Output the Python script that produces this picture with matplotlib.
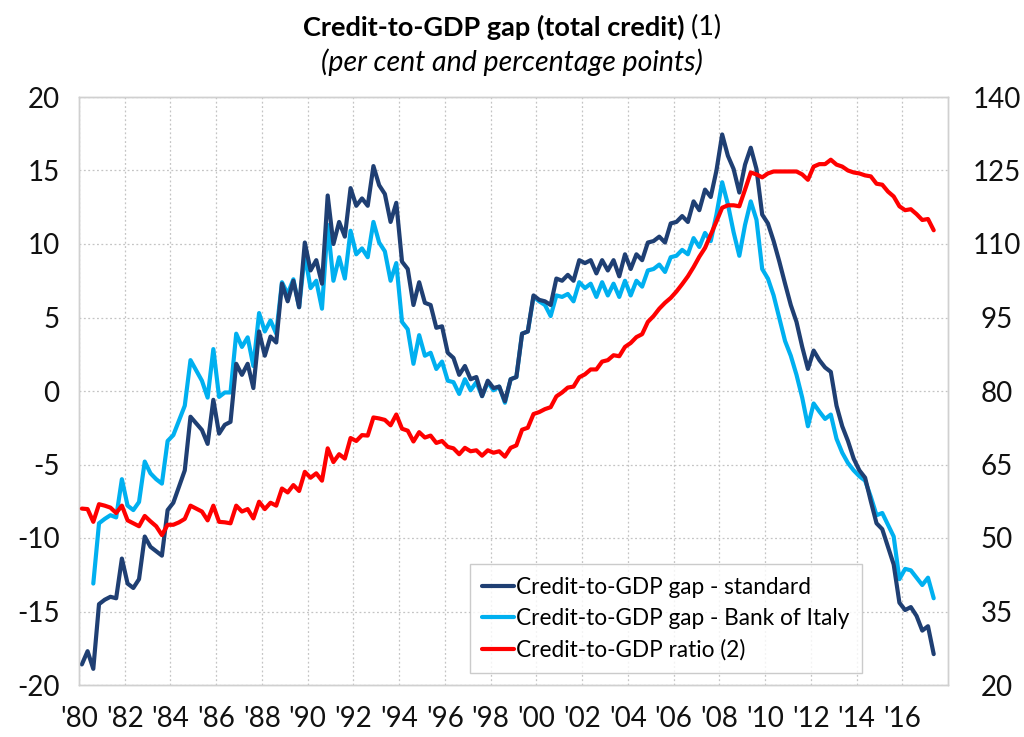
import numpy as np
import matplotlib
matplotlib.use("Agg")
import matplotlib.pyplot as plt

# ---------------- data (quarterly, 1980Q1 - 2017Q2) ----------------
start_year = 1980
gap_standard = [
    -18.6, -17.7, -18.9, -14.5, -14.2, -14.0, -14.1, -11.4, -13.1, -13.4,
    -12.8, -9.9, -10.6, -10.9, -11.2, -8.1, -7.6, -6.5, -5.4, -1.75,
    -2.2, -2.65, -3.6, -0.6, -2.9, -2.3, -2.1, 1.85, 1.1, 1.85,
    0.2, 4.05, 2.4, 3.7, 3.3, 7.3, 6.1, 7.5, 5.7, 10.1,
    8.2, 8.9, 7.3, 13.3, 10.0, 11.5, 10.5, 13.8, 12.6, 13.1,
    12.6, 15.3, 14.0, 13.4, 11.5, 12.8, 8.8, 8.3, 5.85, 7.4,
    6.0, 5.85, 4.3, 4.4, 2.6, 2.25, 1.1, 1.7, 0.8, 0.95,
    -0.35, 0.7, 0.2, 0.3, -0.7, 0.8, 0.95, 3.9, 4.05, 6.5,
    6.2, 6.1, 5.85, 7.65, 7.5, 7.9, 7.5, 8.9, 8.7, 8.9,
    8.0, 8.9, 8.2, 8.9, 7.8, 9.3, 8.3, 9.3, 8.9, 10.1,
    10.2, 10.5, 10.1, 11.4, 11.5, 11.9, 11.5, 12.9, 12.3, 13.7,
    13.2, 15.0, 17.45, 16.0, 15.1, 13.5, 15.4, 16.55, 15.1, 12.0,
    11.4, 10.2, 8.8, 7.3, 5.85, 4.7, 3.0, 1.5, 2.75, 2.1,
    1.6, 1.3, -1.0, -2.4, -3.4, -4.6, -5.4, -5.9, -7.5, -9.0,
    -9.4, -10.6, -11.8, -14.4, -14.9, -14.7, -15.3, -16.3, -16.0, -17.9,
]
gap_bank_italy = [
    np.nan, np.nan, -13.1, -9.0, -8.7, -8.45, -8.6, -6.0, -7.8, -8.1,
    -7.55, -4.8, -5.6, -6.0, -6.3, -3.4, -3.0, -2.0, -1.0, 2.1,
    1.4, 0.7, -0.45, 2.85, -0.4, -0.1, -0.1, 3.9, 3.0, 3.65,
    1.7, 5.3, 4.05, 4.8, 3.9, 7.4, 6.6, 7.6, 5.7, 9.3,
    7.0, 7.5, 5.6, 11.3, 7.5, 9.1, 7.65, 10.9, 9.3, 9.7,
    9.1, 11.5, 10.1, 9.5, 7.5, 8.7, 4.7, 4.2, 1.85, 3.8,
    2.4, 2.6, 1.5, 2.0, 0.7, 0.6, -0.2, 0.8, 0.05, 0.6,
    -0.35, 0.6, 0.05, 0.3, -0.8, 0.8, 0.95, 3.9, 4.05, 6.4,
    6.1, 5.85, 5.1, 6.5, 6.4, 6.6, 6.1, 7.4, 7.0, 7.3,
    6.4, 7.4, 6.5, 7.3, 6.4, 7.5, 6.5, 7.5, 7.1, 8.2,
    8.3, 8.6, 8.1, 9.1, 9.2, 9.6, 9.3, 10.4, 9.8, 10.75,
    10.2, 12.0, 14.2, 12.7, 10.8, 9.2, 11.3, 12.9, 11.65, 8.3,
    7.65, 6.5, 4.95, 3.4, 2.4, 1.1, -0.45, -2.4, -0.85, -1.4,
    -1.9, -1.6, -3.25, -4.2, -4.9, -5.4, -5.8, -6.1, -7.2, -8.45,
    -8.3, -9.1, -9.9, -12.8, -12.1, -12.2, -12.7, -13.2, -12.7, -14.1,
]
credit_ratio = [
    56.0, 55.9, 53.3, 56.9, 56.6, 56.2, 55.1, 56.6, 53.6, 53.0,
    52.4, 54.5, 53.4, 52.4, 50.6, 52.7, 52.7, 53.2, 53.9, 56.6,
    56.0, 55.4, 53.6, 56.6, 53.3, 53.2, 53.0, 56.6, 55.4, 55.9,
    54.0, 57.4, 55.9, 57.2, 56.6, 60.1, 59.3, 60.8, 59.6, 63.5,
    62.3, 63.2, 61.7, 68.3, 65.5, 67.1, 66.2, 70.4, 69.8, 71.0,
    70.9, 74.6, 74.4, 74.1, 73.0, 75.2, 72.3, 71.9, 69.7, 71.6,
    70.5, 70.9, 69.4, 69.8, 68.6, 68.3, 67.1, 68.4, 67.7, 67.9,
    66.8, 67.9, 67.4, 67.7, 66.6, 68.4, 68.9, 72.1, 72.5, 75.3,
    75.7, 76.3, 76.7, 78.9, 79.7, 80.7, 80.9, 82.8, 83.4, 84.4,
    84.4, 86.0, 86.3, 87.3, 87.1, 89.0, 89.8, 91.0, 91.6, 94.1,
    95.3, 96.8, 98.0, 99.0, 100.3, 101.8, 103.4, 105.3, 107.4, 109.2,
    111.9, 114.6, 117.4, 117.9, 117.9, 117.7, 121.1, 124.6, 124.2, 123.6,
    124.4, 124.8, 124.8, 124.8, 124.8, 124.8, 124.2, 123.1, 125.8, 126.3,
    126.3, 127.2, 126.2, 125.8, 125.0, 124.6, 124.4, 124.0, 123.8, 122.3,
    122.1, 120.7, 119.7, 117.7, 116.9, 117.1, 116.1, 114.9, 115.1, 112.8,
]
tick_years = list(range(1980, 2017, 2))
tick_labels = ["'" + str(y)[2:] for y in tick_years]
left_ticks = list(range(-20, 21, 5))
right_ticks = list(range(20, 141, 15))
labels = ["Credit-to-GDP gap - standard",
          "Credit-to-GDP gap - Bank of Italy",
          "Credit-to-GDP ratio (2)"]
colors = ["#1F3F73", "#00B0F0", "#FF0000"]

# quarter mid-points
n = len(gap_standard)
x = start_year + (np.arange(n) + 0.5) / 4.0

FONT = "Lato"
plt.rcParams["font.family"] = [FONT, "DejaVu Sans"]
plt.rcParams["axes.unicode_minus"] = False

fig = plt.figure(figsize=(10.24, 7.37), dpi=100)
ax = fig.add_axes([79 / 1024, 1 - 685 / 737, (948 - 79) / 1024, (685 - 97) / 737])
ax2 = ax.twinx()

lw = 3.0
kw = dict(lw=lw, solid_joinstyle="round", solid_capstyle="round")
l1, = ax.plot(x, gap_standard, color=colors[0], zorder=3, **kw)
l2, = ax.plot(x, gap_bank_italy, color=colors[1], zorder=2, **kw)
l3, = ax2.plot(x, credit_ratio, color=colors[2], zorder=3, **kw)

ax.set_xlim(1980, 2018)
ax.set_ylim(-20, 20)
ax2.set_ylim(20, 140)
ax.set_xticks(tick_years)
ax.set_xticklabels(tick_labels)
ax.set_yticks(left_ticks)
ax2.set_yticks(right_ticks)

ax.grid(True, color="#C4C4C4", linestyle=(0, (1.5, 2)), linewidth=0.9)
ax.set_axisbelow(True)
for a in (ax, ax2):
    for s in a.spines.values():
        s.set_color("#D0D0D0")
        s.set_linewidth(1.0)

ax.tick_params(axis="both", length=0, labelsize=20, colors="#111111")
ax.tick_params(axis="y", pad=14)
ax.tick_params(axis="x", pad=15)
ax2.tick_params(axis="y", length=0, labelsize=20, colors="#111111", pad=35)
for t in ax2.get_yticklabels():
    t.set_horizontalalignment("center")

leg = ax.legend([l1, l2, l3], labels, loc="lower right",
                bbox_to_anchor=(0.901, 0.02), borderaxespad=0,
                fontsize=16.3, frameon=True, fancybox=False,
                handlelength=1.4, handletextpad=0.1, labelspacing=0.45,
                borderpad=0.55)
leg.get_frame().set_edgecolor("#BFBFBF")
leg.get_frame().set_linewidth(1.0)
leg.set_zorder(10)

# title: bold part + normal "(1)"
renderer = fig.canvas.get_renderer()
t_bold = fig.text(0, 1 - 27 / 737, "Credit-to-GDP gap (total credit)", fontsize=19.5,
                  fontweight="bold", va="center", ha="left")
t_norm = fig.text(0, 1 - 27 / 737, " (1)", fontsize=19.5, va="center", ha="left")
wb = t_bold.get_window_extent(renderer).width
wn = t_norm.get_window_extent(renderer).width
x0 = (1024 / 2 - (wb + wn) / 2) / 1024
t_bold.set_x(x0)
t_norm.set_x(x0 + wb / 1024)
fig.text(0.5, 1 - 62 / 737, "(per cent and percentage points)", fontsize=20.5,
         style="italic", ha="center", va="center")
fig.text(0.982, 1.0 + 6 / 737, "g", fontsize=17, ha="center", va="baseline")

fig.savefig("out.png", dpi=100)
